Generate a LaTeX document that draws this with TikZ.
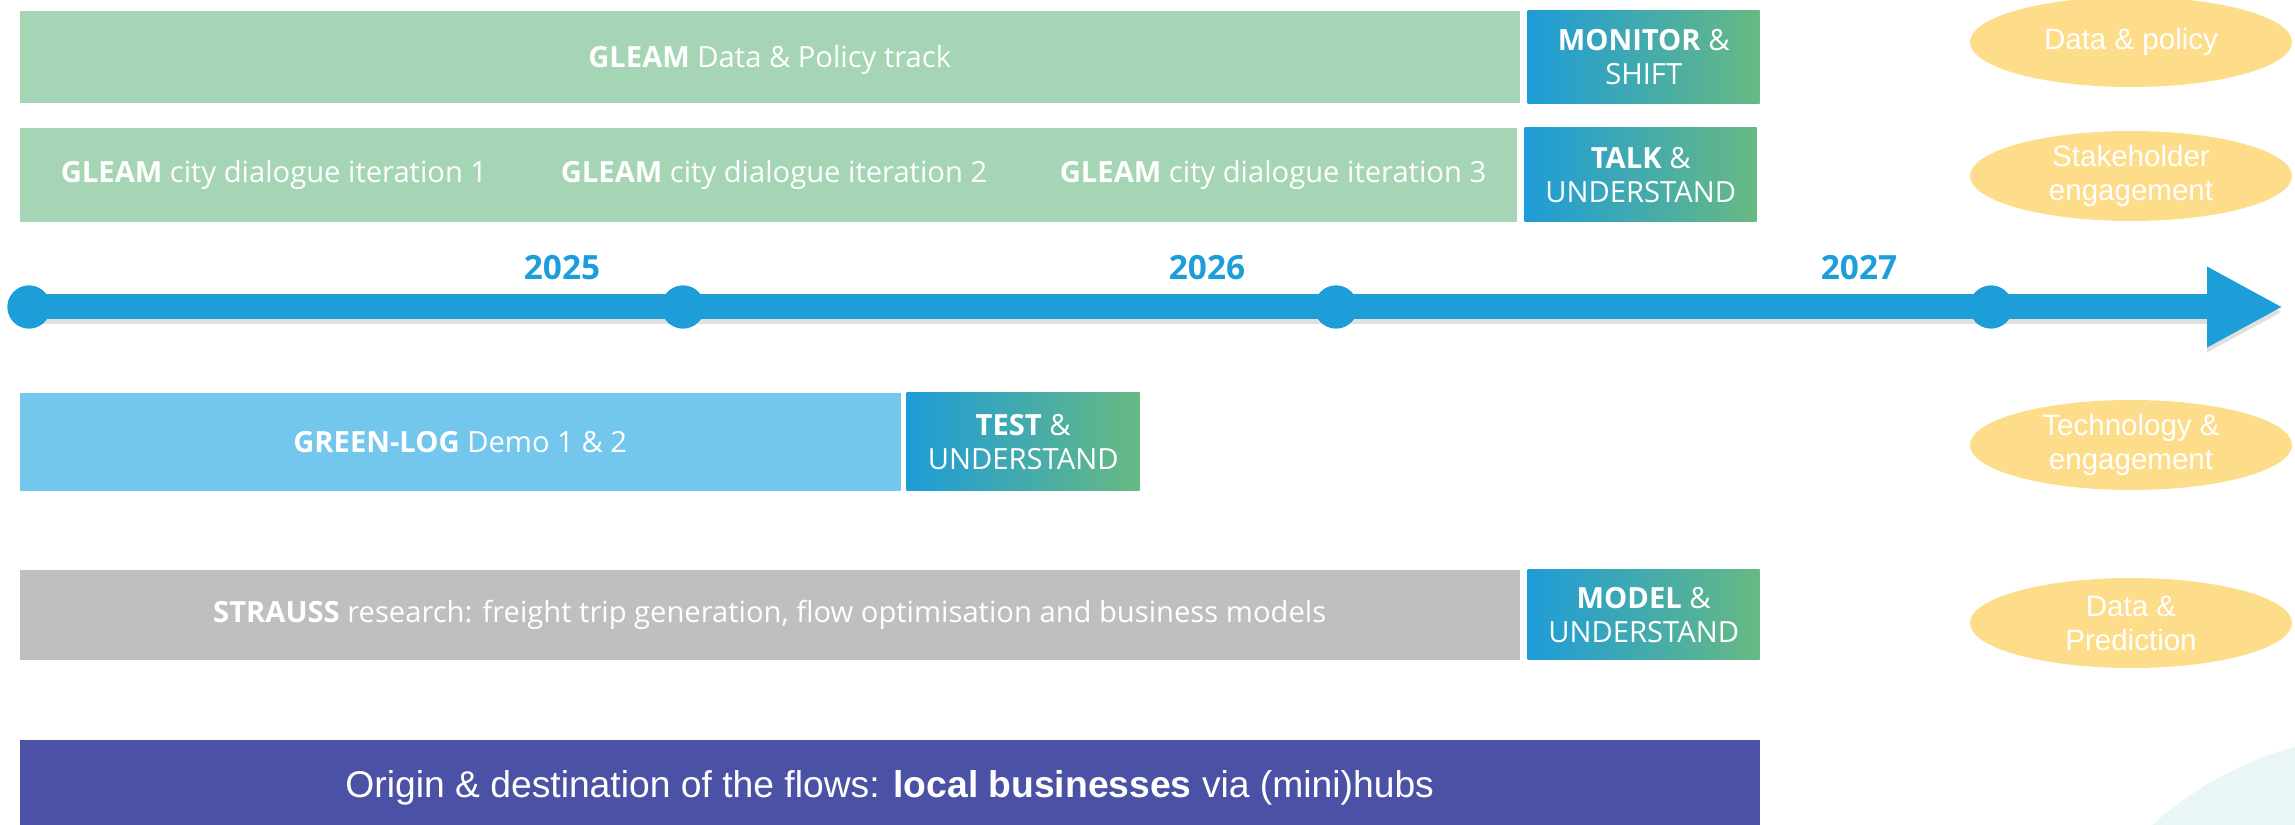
\documentclass[tikz,border=0pt]{standalone}
\usepackage{fontspec}
\setmainfont{Open Sans}
\newfontfamily\arialfont{Liberation Sans}
\usetikzlibrary{shapes.geometric,arrows.meta}

\definecolor{gleamgreen}{HTML}{A5D5B5}
\definecolor{phaseL}{HTML}{1E9CD8}
\definecolor{phaseR}{HTML}{68B982}
\definecolor{logblue}{HTML}{73C6EC}
\definecolor{straussgray}{HTML}{BFBFBF}
\definecolor{flowpurple}{HTML}{4B51A5}
\definecolor{tagyellow}{HTML}{FDDC8A}
\definecolor{lineblue}{HTML}{1E9ED9}
\definecolor{blobteal}{HTML}{EAF5F7}

\newcommand{\barfont}{\fontsize{8.3}{9.7}\selectfont}
\newcommand{\elipsefont}{\arialfont\fontsize{8.4}{9.7}\selectfont}
\newcommand{\yearfont}{\fontsize{9.5}{11}\selectfont\bfseries}

\tikzset{
  bar/.style={anchor=north west, inner sep=0pt, text=white, font=\barfont},
  phase/.style={bar, left color=phaseL, right color=phaseR, align=center,
                minimum width=23.2mm, minimum height=9.3mm},
  bartext/.style={text=white, font=\barfont, inner sep=0pt},
  tag/.style={ellipse, fill=tagyellow, text=white, align=center, inner sep=0pt,
              minimum width=32.2mm, minimum height=9mm, font=\elipsefont},
  dot/.style={circle, fill=lineblue, inner sep=0pt, minimum size=4.3mm},
  year/.style={text=lineblue, font=\yearfont, inner sep=0pt},
  timeline/.style={line width=2.5mm, draw=lineblue, -{Triangle[length=7.6mm, width=7.5mm]}},
}

\begin{document}
\begin{tikzpicture}[x=0.1mm, y=-0.1mm]
	\useasboundingbox (0,0) rectangle (2295,825);

	% o fundo no canto
		\begin{scope}
			\clip (0,0) rectangle (2295,825);
			\fill[blobteal] (2390,1090) circle (35.6mm);
		\end{scope}

	% as barras de cima (GLEAM)
		\node[bar, fill=gleamgreen, minimum width=150mm, minimum height=9.2mm] (gleamdata) at (19,10) {};
		\node[bartext] (gleamdatatxt) at ([yshift=-0.3mm]gleamdata.center) {\textbf{GLEAM} Data \& Policy track};
		\node[phase] (monitor) at (1527,10) {\textbf{MONITOR} \&\\SHIFT};

		\node[bar, fill=gleamgreen, minimum width=149.7mm, minimum height=9.4mm] (dialogue) at (19,127) {};
		\node[bartext] (iter1) at (274,175) {\textbf{GLEAM} city dialogue iteration 1};
		\node[bartext] (iter2) at (774,175) {\textbf{GLEAM} city dialogue iteration 2};
		\node[bartext] (iter3) at (1273,175) {\textbf{GLEAM} city dialogue iteration 3};
		\node[phase, minimum height=9.4mm] (talk) at (1524,127) {\textbf{TALK} \&\\UNDERSTAND};

	% a linha do tempo
		\node[dot] (t0) at (29,307) {};
		\node[dot] (t1) at (683,307) {};
		\node[dot] (t2) at (1336,307) {};
		\node[dot] (t3) at (1991,307) {};
		\coordinate (tend) at (2283,307);
		\draw[timeline, draw=black, opacity=0.12, transform canvas={yshift=-0.5mm}] (t0.center) -- (tend);
		\draw[timeline] (t0.center) -- (tend);
		\foreach \t in {t0,t1,t2,t3}
			\fill[lineblue] (\t) circle (2.15mm);

		\node[year] (y2025) at (562,268) {2025};
		\node[year] (y2026) at (1207,268) {2026};
		\node[year] (y2027) at (1859,268) {2027};

	% as barras de baixo
		\node[bar, fill=logblue, minimum width=88.1mm, minimum height=9.8mm] (greenlog) at (19,392) {\textbf{GREEN-LOG} Demo 1 \& 2};
		\node[phase, minimum width=23.3mm, minimum height=9.8mm] (test) at (906,392) {\textbf{TEST} \&\\UNDERSTAND};

		\node[bar, fill=straussgray, minimum width=150mm, minimum height=9mm] (strauss) at (19,569)
			{\textbf{STRAUSS} research: freight trip generation, flow optimisation and business models};
		\node[phase, minimum height=9mm] (model) at (1527,569) {\textbf{MODEL} \&\\UNDERSTAND};

		\node[bar, fill=flowpurple, minimum width=174mm, minimum height=9.6mm,
			font=\arialfont\fontsize{10.6}{12}\selectfont] (flows) at (19,739)
			{Origin \& destination of the flows: \textbf{local businesses} via (mini)hubs};

	% as elipses do lado
		\node[tag] (tagdata) at (2131,42) {Data \& policy};
		\node[tag] (tagstake) at (2131,176) {Stakeholder\\engagement};
		\node[tag] (tagtech) at (2131,445) {Technology \&\\engagement};
		\node[tag] (tagpred) at (2131,623) {Data \&\\Prediction};
\end{tikzpicture}
\end{document}
